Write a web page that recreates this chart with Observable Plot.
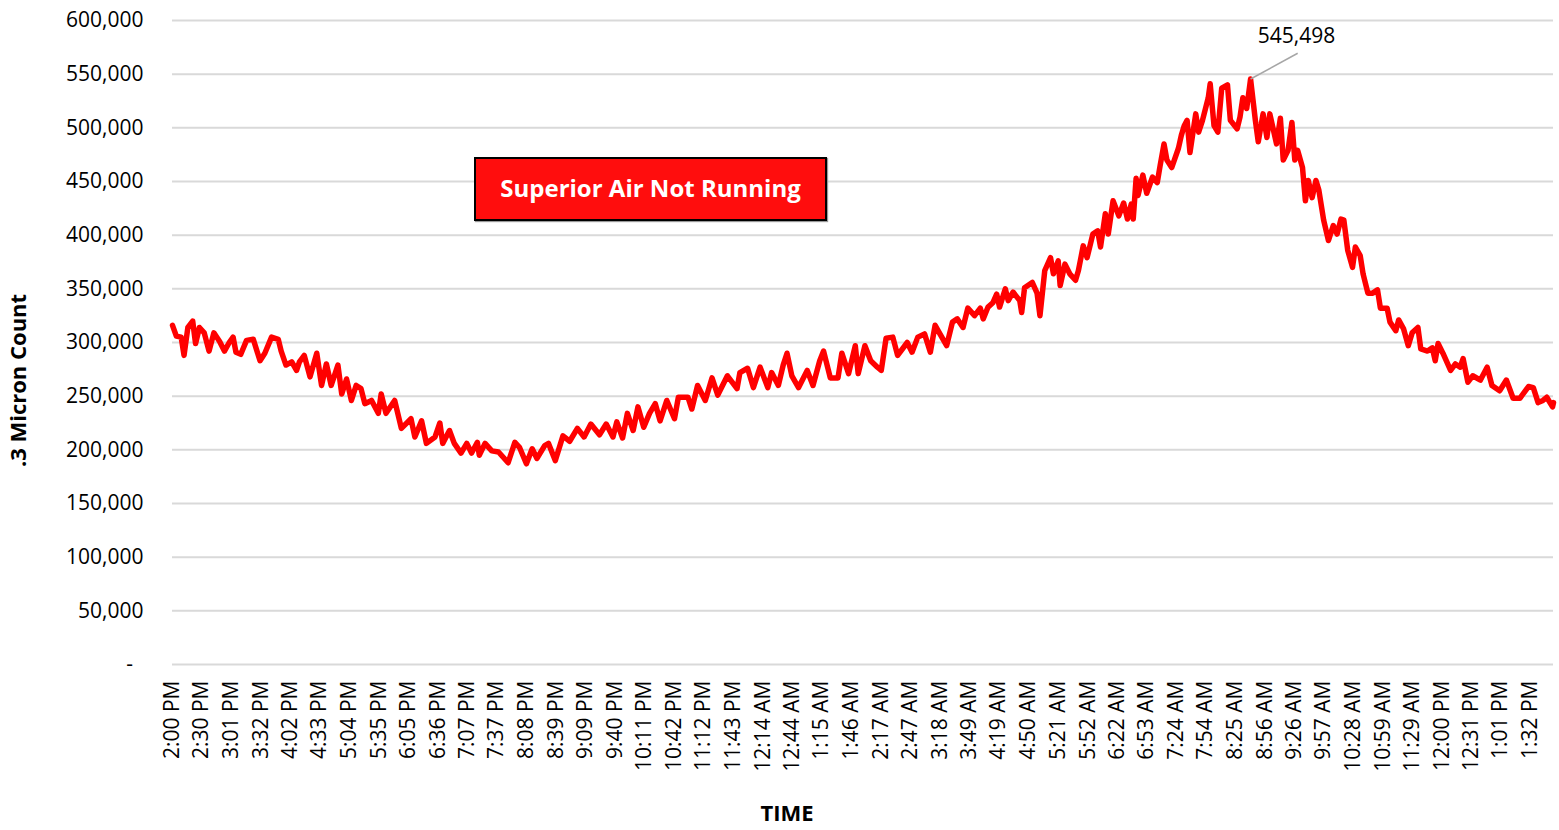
<!DOCTYPE html>
<html>
<head>
<meta charset="utf-8">
<script src="https://cdn.jsdelivr.net/npm/d3@7"></script>
<script src="https://cdn.jsdelivr.net/npm/@observablehq/plot@0.6"></script>
<style>
  body { margin: 0; background: #fff; }
  #wrap { position: relative; width: 1559px; height: 830px; font-family: "Open Sans", sans-serif; }
  #note {
    position: absolute; left: 474px; top: 157px; width: 349px; height: 60px;
    background: #ff0d0d; border: 2px solid #000; box-shadow: 1px 1px 1px #999;
    color: #fff; font-weight: bold; font-size: 24px; line-height: 58px; text-align: center;
  }
</style>
</head>
<body>
<div id="wrap"><div id="note">Superior Air Not Running</div></div>
<script>
// Tick labels on the time axis (every ~30.6 minutes, starting 2:00 PM)
const timeLabels = ["2:00 PM","2:30 PM","3:01 PM","3:32 PM","4:02 PM","4:33 PM","5:04 PM","5:35 PM","6:05 PM","6:36 PM","7:07 PM","7:37 PM","8:08 PM","8:39 PM","9:09 PM","9:40 PM","10:11 PM","10:42 PM","11:12 PM","11:43 PM","12:14 AM","12:44 AM","1:15 AM","1:46 AM","2:17 AM","2:47 AM","3:18 AM","3:49 AM","4:19 AM","4:50 AM","5:21 AM","5:52 AM","6:22 AM","6:53 AM","7:24 AM","7:54 AM","8:25 AM","8:56 AM","9:26 AM","9:57 AM","10:28 AM","10:59 AM","11:29 AM","12:00 PM","12:31 PM","1:01 PM","1:32 PM"];

// Minutes elapsed since 2:00 PM for each reading
const minutes = [0,4,9,12,16,21,24,28,33,38,43,49,54,59,63,66,71,77,84,91,96,103,110,113,118,124,129,132,137,143,150,155,160,165,172,176,181,186,191,196,200,207,214,217,222,231,238,248,252,259,264,273,278,281,288,293,300,306,311,317,319,325,332,339,349,356,361,368,374,379,387,391,398,406,413,421,428,435,444,451,458,462,468,473,479,484,490,496,502,507,514,522,526,536,540,546,554,561,567,577,587,590,598,604,611,619,623,630,635,639,644,651,660,666,673,677,684,692,696,703,710,713,720,726,733,737,742,749,754,764,769,775,782,788,793,798,805,811,816,822,827,834,840,843,848,853,857,860,866,869,874,881,883,886,894,899,902,907,913,916,921,923,928,933,939,942,947,951,957,962,965,970,973,978,984,989,993,997,999,1002,1004,1009,1013,1019,1024,1027,1031,1034,1039,1046,1049,1052,1055,1058,1064,1067,1071,1077,1079,1083,1087,1091,1097,1100,1107,1110,1113,1117,1121,1126,1129,1134,1138,1141,1148,1152,1155,1160,1164,1167,1170,1175,1178,1181,1185,1189,1192,1197,1202,1207,1211,1215,1218,1222,1227,1230,1235,1238,1243,1248,1253,1256,1263,1266,1272,1275,1280,1285,1289,1295,1298,1305,1310,1313,1316,1321,1329,1334,1339,1342,1347,1352,1360,1367,1372,1380,1387,1394,1401,1410,1415,1420,1425,1429,1435,1436];

// .3 micron particle counts
const counts = [316000,306000,305000,288000,314000,320000,299000,314000,309000,292000,309000,301000,292000,300000,305000,291000,289000,302000,303000,283000,290000,305000,303000,292000,279000,282000,274000,282000,288000,268000,290000,260000,280000,260000,279000,252000,266000,246000,260000,257000,243000,246000,234000,252000,234000,246000,220000,229000,212000,227000,206000,212000,225000,206000,218000,206000,197000,206000,197000,207000,195000,206000,199000,198000,188000,207000,202000,187000,201000,192000,204000,206000,190000,213000,208000,220000,212000,224000,214000,224000,212000,226000,211000,234000,218000,240000,221000,234000,243000,227000,246000,229000,249000,249000,238000,260000,246000,267000,251000,269000,257000,272000,276000,258000,277000,258000,272000,260000,279000,290000,269000,258000,274000,260000,283000,292000,267000,267000,290000,271000,297000,271000,297000,283000,277000,274000,304000,305000,288000,300000,291000,305000,308000,291000,316000,308000,297000,319000,322000,314000,332000,325000,332000,322000,333000,337000,345000,333000,350000,339000,347000,339000,328000,351000,356000,346000,325000,367000,379000,364000,376000,353000,373000,364000,358000,367000,390000,379000,401000,404000,389000,420000,401000,432000,418000,430000,415000,429000,415000,453000,437000,456000,439000,454000,449000,465000,485000,470000,463000,481000,493000,502000,507000,477000,513000,496000,507000,528000,541000,502000,496000,537000,540000,507000,499000,510000,528000,518000,545498,507000,487000,513000,491000,513000,485000,509000,470000,479000,505000,470000,479000,463000,432000,451000,435000,451000,442000,414000,395000,409000,401000,415000,414000,386000,370000,389000,381000,364000,346000,346000,349000,332000,332000,319000,311000,321000,313000,297000,309000,314000,294000,292000,295000,283000,299000,290000,274000,280000,277000,285000,263000,269000,265000,277000,260000,255000,265000,248000,248000,259000,258000,244000,246000,249000,240000,244000];

const yTicks = [0,50000,100000,150000,200000,250000,300000,350000,400000,450000,500000,550000,600000];

// convert tick label text into minutes since 2:00 PM
function labelToMinutes(s) {
  const [hm, ap] = s.split(" ");
  const [h, m] = hm.split(":").map(Number);
  const h24 = (h % 12) + (ap === "PM" ? 12 : 0);
  return ((h24 * 60 + m) - 840 + 1440) % 1440;
}
const tickMinutes = timeLabels.map(labelToMinutes);
const labelOf = new Map(tickMinutes.map((m, i) => [m, timeLabels[i]]));

const data = minutes.map((m, i) => ({minute: m, count: counts[i]}));
const peak = d3.greatest(data, d => d.count);
const fmt = d3.format(",");

const chart = Plot.plot({
  width: 1559,
  height: 830,
  marginTop: 20,
  marginBottom: 166,
  marginLeft: 172,
  marginRight: 6,
  style: {fontFamily: "Open Sans, sans-serif", fontSize: "21px", color: "#000", background: "#fff"},
  x: {domain: [0, d3.max(minutes)], axis: null},
  y: {domain: [0, 600000], axis: null},
  marks: [
    Plot.ruleY(yTicks, {stroke: "#d9d9d9", strokeWidth: 2}),
    Plot.axisY(yTicks, {label: null, tickSize: 0, tickPadding: 29, tickFormat: d => d === 0 ? "-\u2002" : fmt(d), fontSize: 21}),
    Plot.axisX(tickMinutes, {label: null, tickSize: 0, tickPadding: 16, tickRotate: -90, tickFormat: d => labelOf.get(d), fontSize: 21}),
    Plot.line(data, {x: "minute", y: "count", stroke: "#ff0000", strokeWidth: 5.5, strokeLinejoin: "round", strokeLinecap: "round"}),
    Plot.link([peak], {x1: "minute", y1: "count", x2: d => d.minute + 49, y2: d => d.count + 24000, stroke: "#a6a6a6", strokeWidth: 1.5}),
    Plot.text([peak], {x: "minute", y: "count", text: d => fmt(d.count), dx: 46, dy: -43, fontSize: 21, fill: "#000"}),
    Plot.text([".3 Micron Count"], {frameAnchor: "left", textAnchor: "middle", lineAnchor: "middle", dx: -154, dy: 38, rotate: -90, fontWeight: "bold", fontSize: 22, fill: "#000"}),
    Plot.text(["TIME"], {frameAnchor: "bottom", textAnchor: "middle", lineAnchor: "middle", dx: -76, dy: 149, fontWeight: "bold", fontSize: 22, fill: "#000"})
  ]
});
document.getElementById("wrap").prepend(chart);
</script>
</body>
</html>
